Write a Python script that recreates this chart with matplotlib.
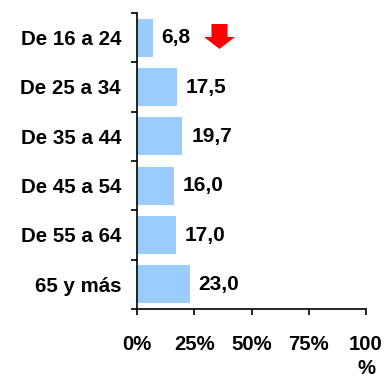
import matplotlib
matplotlib.use("Agg")
import matplotlib.pyplot as plt
from matplotlib.path import Path
from matplotlib import transforms

categories = ["De 16 a 24", "De 25 a 34", "De 35 a 44", "De 45 a 54", "De 55 a 64", "65 y más"]
values = [6.8, 17.5, 19.7, 16.0, 17.0, 23.0]
value_labels = ["6,8", "17,5", "19,7", "16,0", "17,0", "23,0"]
xticks = [0, 25, 50, 75, 100]
xtick_labels = ["0%", "25%", "50%", "75%", "100\n%"]

plt.rcParams['font.family'] = ['Liberation Sans', 'DejaVu Sans']
plt.rcParams['font.weight'] = 'bold'

fig = plt.figure(figsize=(3.85, 3.79), dpi=100)
ax = fig.add_axes([137/385, (379-309)/379, (366-137)/385, (309-13)/379])

ypos = list(range(len(categories)))
ax.barh(ypos, values, height=0.77, color="#99CCFF")

for y, v, lab in zip(ypos, values, value_labels):
    ax.annotate(lab, (v, y), xytext=(6.5, 0), textcoords="offset points",
                ha="left", va="center", fontsize=15, fontweight="bold", color="black")

# red down arrow next to first category
verts = [(-0.26, 0.403), (0.26, 0.403), (0.26, -0.016), (0.5, -0.016), (0.0, -0.403),
         (-0.5, -0.016), (-0.26, -0.016), (-0.26, 0.403)]
codes = [Path.MOVETO] + [Path.LINETO] * 6 + [Path.CLOSEPOLY]
arrow = Path(verts, codes)
tr = transforms.offset_copy(ax.transData, fig=fig, x=48.0, y=1.4, units="points")
ax.plot([values[0]], [ypos[0]], marker=arrow, markersize=22.3, color="#FF0000",
        markeredgewidth=0, linestyle="none", transform=tr, clip_on=False)

ax.set_xlim(0, 100)
ax.set_ylim(len(categories) - 0.5, -0.5)

ax.set_yticks([i - 0.5 for i in range(len(categories) + 1)], minor=False)
ax.set_yticklabels([])
ax.set_yticks(ypos, minor=True)
ax.set_yticklabels(categories, minor=True, fontsize=14.8, fontweight="bold")
ax.tick_params(axis="y", which="minor", length=0, pad=11.5)
ax.tick_params(axis="y", which="major", length=4, width=1.2, direction="out")

ax.set_xticks(xticks)
ax.set_xticklabels(xtick_labels, fontsize=14.6, fontweight="bold", linespacing=1.35)
ax.tick_params(axis="x", length=4.5, width=1.2, direction="out", pad=14)

for s in ["top", "right"]:
    ax.spines[s].set_visible(False)
for s in ["left", "bottom"]:
    ax.spines[s].set_linewidth(1.2)
    ax.spines[s].set_color("black")

fig.savefig("out.png", dpi=100)
